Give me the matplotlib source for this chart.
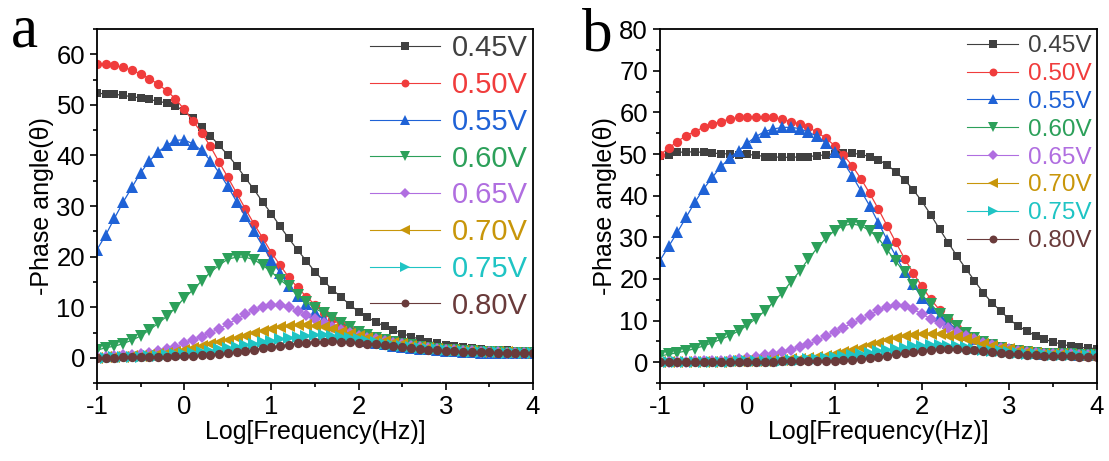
import numpy as np
import matplotlib
matplotlib.use('Agg')
import matplotlib.pyplot as plt
from matplotlib.ticker import MultipleLocator

plt.rcParams['font.family'] = ['Liberation Sans', 'DejaVu Sans']
plt.rcParams['axes.unicode_minus'] = False

# log frequency grid, 10 points per decade
log_freq = [-1.0, -0.9, -0.8, -0.7, -0.6, -0.5, -0.4, -0.3, -0.2, -0.1,
            0.0, 0.1, 0.2, 0.3, 0.4, 0.5, 0.6, 0.7, 0.8, 0.9,
            1.0, 1.1, 1.2, 1.3, 1.4, 1.5, 1.6, 1.7, 1.8, 1.9,
            2.0, 2.1, 2.2, 2.3, 2.4, 2.5, 2.6, 2.7, 2.8, 2.9,
            3.0, 3.1, 3.2, 3.3, 3.4, 3.5, 3.6, 3.7, 3.8, 3.9, 4.0]

labels = ['0.45V', '0.50V', '0.55V', '0.60V', '0.65V', '0.70V', '0.75V', '0.80V']
colors = ['#404040', '#f03c3c', '#1f62d6', '#2ca05a', '#b06ee0', '#c8960a', '#1fc4c4', '#6a3b3b']
markers = ['s', 'o', '^', 'v', 'D', '<', '>', 'o']
msize = [1.0, 1.05, 1.25, 1.25, 0.95, 1.25, 1.25, 1.05]   # relative marker sizes

# ---- panel a ----
a045 = [52.3, 52.2, 52.1, 51.9, 51.6, 51.4, 51.1, 50.7, 50.4, 49.8,
        48.8, 47.4, 45.7, 43.9, 42.0, 40.1, 38.0, 35.6, 33.3, 30.8,
        28.5, 26.0, 23.6, 21.3, 19.2, 17.0, 15.2, 13.5, 12.0, 10.5,
        9.1, 8.0, 7.1, 6.2, 5.5, 4.8, 4.2, 3.7, 3.2, 2.9,
        2.6, 2.3, 2.1, 1.9, 1.8, 1.6, 1.5, 1.5, 1.4, 1.4, 1.4]
a050 = [58.1, 58.0, 57.8, 57.4, 56.9, 56.1, 55.2, 54.1, 52.8, 51.2,
        49.1, 46.8, 44.5, 41.8, 38.7, 35.7, 32.6, 29.5, 26.5, 23.7,
        20.8, 18.3, 15.9, 13.9, 12.1, 10.5, 8.9, 7.6, 6.5, 5.5,
        4.7, 4.1, 3.6, 3.2, 2.8, 2.5, 2.2, 2.0, 1.8, 1.6,
        1.5, 1.3, 1.2, 1.1, 1.0, 1.0, 1.0, 0.9, 0.9, 0.9, 0.9]
a055 = [21.4, 24.3, 27.6, 30.8, 33.7, 36.6, 38.9, 40.7, 42.0, 43.0,
        43.1, 42.3, 41.0, 39.0, 36.6, 33.9, 30.9, 28.0, 25.0, 22.1,
        19.3, 16.8, 14.2, 12.3, 10.6, 9.0, 7.6, 6.4, 5.4, 4.6,
        3.9, 3.4, 3.0, 2.7, 2.4, 2.2, 2.0, 1.8, 1.7, 1.5,
        1.4, 1.3, 1.2, 1.1, 1.0, 1.0, 1.0, 0.9, 0.9, 0.9, 0.9]
a060 = [1.5, 2.0, 2.3, 2.8, 3.5, 4.3, 5.5, 6.8, 8.2, 9.9,
        11.8, 13.4, 15.2, 16.9, 18.3, 19.5, 19.9, 19.9, 19.4, 18.3,
        17.0, 15.4, 14.1, 12.4, 11.1, 9.8, 8.8, 7.8, 6.9, 6.0,
        5.2, 4.6, 4.0, 3.6, 3.2, 2.8, 2.5, 2.2, 2.0, 1.8,
        1.6, 1.5, 1.4, 1.3, 1.2, 1.1, 1.1, 1.0, 1.0, 1.0, 1.0]
a065 = [0.1, 0.2, 0.3, 0.5, 0.6, 0.8, 1.0, 1.3, 1.7, 2.2,
        2.9, 3.6, 4.2, 5.0, 5.7, 6.7, 7.6, 8.6, 9.5, 10.1,
        10.5, 10.5, 10.1, 9.3, 8.5, 7.6, 6.8, 6.0, 5.4, 4.9,
        4.4, 4.0, 3.7, 3.3, 3.0, 2.7, 2.4, 2.2, 2.0, 1.8,
        1.6, 1.5, 1.4, 1.3, 1.2, 1.1, 1.1, 1.0, 1.0, 1.0, 1.0]
a070 = [0.0, 0.1, 0.1, 0.2, 0.3, 0.4, 0.5, 0.7, 0.9, 1.2,
        1.5, 1.9, 2.3, 2.7, 3.1, 3.6, 4.0, 4.4, 4.9, 5.3,
        5.7, 6.0, 6.2, 6.4, 6.4, 6.3, 6.0, 5.6, 5.2, 4.8,
        4.4, 4.0, 3.6, 3.3, 3.0, 2.7, 2.4, 2.2, 2.0, 1.8,
        1.6, 1.5, 1.4, 1.3, 1.2, 1.2, 1.1, 1.1, 1.0, 1.0, 1.0]
a075 = [0.0, 0.0, 0.1, 0.1, 0.2, 0.2, 0.3, 0.4, 0.5, 0.7,
        0.8, 1.0, 1.2, 1.4, 1.7, 1.9, 2.2, 2.5, 2.8, 3.1,
        3.4, 3.7, 4.0, 4.2, 4.4, 4.5, 4.5, 4.4, 4.2, 4.0,
        3.7, 3.4, 3.1, 2.8, 2.6, 2.4, 2.2, 2.0, 1.8, 1.7,
        1.5, 1.4, 1.3, 1.2, 1.2, 1.1, 1.1, 1.0, 1.0, 1.0, 1.0]
a080 = [-0.1, 0.0, 0.0, 0.1, 0.1, 0.1, 0.2, 0.2, 0.2, 0.3,
        0.3, 0.4, 0.5, 0.6, 0.8, 0.9, 1.1, 1.3, 1.6, 1.9,
        2.1, 2.4, 2.6, 2.9, 3.0, 3.2, 3.2, 3.3, 3.2, 3.1,
        3.0, 2.8, 2.7, 2.5, 2.3, 2.1, 1.9, 1.8, 1.6, 1.5,
        1.4, 1.3, 1.2, 1.2, 1.1, 1.1, 1.0, 1.0, 1.0, 0.9, 0.9]

# ---- panel b ----
b045 = [49.6, 49.8, 50.4, 50.5, 50.5, 50.4, 50.2, 50.1, 50.0, 49.8,
        49.9, 49.7, 49.4, 49.3, 49.2, 49.2, 49.3, 49.4, 49.6, 49.8,
        50.1, 50.2, 50.2, 49.9, 49.4, 48.6, 47.4, 45.7, 43.8, 41.4,
        38.6, 35.4, 32.0, 28.7, 25.5, 22.5, 19.6, 16.7, 14.3, 12.3,
        10.3, 8.7, 7.5, 6.3, 5.5, 4.9, 4.3, 3.9, 3.6, 3.4, 3.3]
b050 = [49.8, 51.4, 53.0, 54.4, 55.4, 56.4, 57.2, 57.8, 58.4, 58.8,
        58.9, 58.9, 58.9, 58.8, 58.3, 57.8, 57.2, 56.4, 55.2, 53.8,
        52.0, 49.8, 47.2, 44.1, 40.6, 36.8, 32.8, 28.8, 24.9, 21.4,
        18.2, 15.1, 12.6, 10.3, 8.3, 6.8, 5.6, 4.6, 3.8, 3.3,
        2.9, 2.6, 2.4, 2.2, 2.1, 2.0, 1.9, 1.9, 1.8, 1.8, 1.8]
b055 = [24.4, 27.8, 31.2, 34.8, 38.4, 41.6, 44.4, 47.0, 49.0, 50.8,
        52.6, 54.2, 55.4, 56.0, 56.4, 56.4, 56.1, 55.2, 54.3, 52.7,
        50.5, 48.0, 44.8, 41.2, 37.6, 33.5, 29.4, 25.5, 21.7, 18.7,
        15.4, 13.1, 11.1, 9.4, 8.0, 6.5, 5.5, 4.6, 3.9, 3.3,
        2.9, 2.6, 2.4, 2.2, 2.1, 2.0, 1.9, 1.9, 1.8, 1.8, 1.8]
b060 = [1.5, 1.9, 2.3, 2.7, 3.3, 3.9, 4.7, 5.5, 6.4, 7.5,
        8.9, 10.5, 12.3, 14.5, 16.7, 19.3, 21.9, 24.8, 27.4, 29.8,
        31.6, 32.8, 33.2, 32.8, 31.6, 29.8, 27.0, 24.2, 21.6, 18.6,
        16.1, 14.0, 11.7, 10.2, 8.6, 7.1, 5.9, 4.9, 4.1, 3.5,
        3.0, 2.6, 2.4, 2.2, 2.1, 2.0, 1.9, 1.9, 1.8, 1.8, 1.8]
b065 = [0.0, 0.0, 0.1, 0.1, 0.2, 0.2, 0.3, 0.4, 0.6, 0.8,
        1.0, 1.3, 1.7, 2.1, 2.5, 3.0, 3.6, 4.3, 5.3, 6.3,
        7.3, 8.3, 9.4, 10.3, 11.3, 12.5, 13.3, 13.8, 13.5, 12.7,
        11.6, 10.4, 9.4, 8.3, 7.3, 6.3, 5.5, 4.7, 4.1, 3.5,
        3.1, 2.7, 2.5, 2.3, 2.1, 2.0, 1.9, 1.9, 1.8, 1.8, 1.8]
b070 = [0.0, 0.0, 0.0, 0.0, 0.1, 0.1, 0.1, 0.1, 0.2, 0.2,
        0.3, 0.3, 0.4, 0.5, 0.6, 0.7, 0.9, 1.1, 1.3, 1.6,
        1.9, 2.4, 3.0, 3.5, 4.1, 4.7, 5.3, 5.8, 6.2, 6.5,
        6.8, 6.8, 6.7, 6.4, 6.0, 5.5, 5.0, 4.4, 3.9, 3.5,
        3.1, 2.8, 2.5, 2.3, 2.1, 2.0, 1.9, 1.8, 1.8, 1.7, 1.7]
b075 = [0.0, 0.0, 0.0, 0.0, 0.0, 0.1, 0.1, 0.1, 0.1, 0.2,
        0.2, 0.2, 0.3, 0.3, 0.4, 0.5, 0.6, 0.7, 0.8, 1.0,
        1.2, 1.4, 1.7, 2.0, 2.3, 2.6, 2.9, 3.2, 3.5, 3.8,
        4.0, 4.1, 4.1, 4.0, 3.8, 3.6, 3.3, 3.0, 2.8, 2.6,
        2.4, 2.2, 2.1, 2.0, 1.9, 1.8, 1.8, 1.7, 1.7, 1.7, 1.7]
b080 = [0.0, 0.0, 0.0, 0.0, 0.0, 0.0, 0.1, 0.1, 0.1, 0.1,
        0.1, 0.1, 0.1, 0.1, 0.2, 0.2, 0.2, 0.2, 0.3, 0.3,
        0.4, 0.5, 0.6, 0.8, 1.0, 1.3, 1.6, 1.9, 2.2, 2.5,
        2.8, 3.0, 3.1, 3.1, 3.1, 3.0, 2.9, 2.7, 2.5, 2.3,
        2.1, 2.0, 1.8, 1.7, 1.6, 1.5, 1.4, 1.4, 1.3, 1.3, 1.3]

panel_a = [a045, a050, a055, a060, a065, a070, a075, a080]
panel_b = [b045, b050, b055, b060, b065, b070, b075, b080]

fig = plt.figure(figsize=(11.09, 4.61), dpi=100)
ax_a = fig.add_axes([0.0875, 0.169, 0.393, 0.768])
ax_b = fig.add_axes([0.595, 0.169, 0.394, 0.768])


def draw(ax, series, ylim, ms, leg_fs, leg_space, leg_hl, anchor):
    for vals, lab, c, m, k in zip(series, labels, colors, markers, msize):
        ax.plot(log_freq, vals, color=c, marker=m, markersize=ms * k,
                markeredgewidth=0, linewidth=0.9, label=lab)
    ax.set_xlim(-1, 4)
    ax.set_ylim(*ylim)
    ax.xaxis.set_major_locator(MultipleLocator(1))
    ax.xaxis.set_minor_locator(MultipleLocator(0.5))
    ax.yaxis.set_major_locator(MultipleLocator(10))
    ax.yaxis.set_minor_locator(MultipleLocator(5))
    ax.tick_params(which='both', direction='out', top=False, right=False,
                   width=1.2, labelsize=18.5)
    ax.tick_params(which='major', length=5)
    ax.tick_params(which='minor', length=3)
    for sp in ax.spines.values():
        sp.set_linewidth(1.3)
    ax.set_xlabel('Log[Frequency(Hz)]', fontsize=18, labelpad=1)
    ax.set_ylabel('-Phase angle(\u03b8)', fontsize=18, labelpad=2)
    leg = ax.legend(loc='upper right', bbox_to_anchor=anchor, frameon=False,
                    fontsize=leg_fs, labelspacing=leg_space,
                    handlelength=leg_hl, handletextpad=0.4, borderaxespad=0,
                    labelcolor='linecolor', markerscale=0.85)
    for h in leg.legend_handles:
        h.set_linewidth(0.8)


draw(ax_a, panel_a, (-5, 65), 6.4, 21, 0.3, 2.4, (1.015, 1.018))
draw(ax_b, panel_b, (-5, 80), 6.4, 17.5, 0.24, 2.1, (1.01, 1.01))

fig.text(0.01, 0.9, 'a', fontsize=44, family='Liberation Serif')
fig.text(0.525, 0.89, 'b', fontsize=44, family='Liberation Serif')

fig.savefig('out.png', dpi=100)
